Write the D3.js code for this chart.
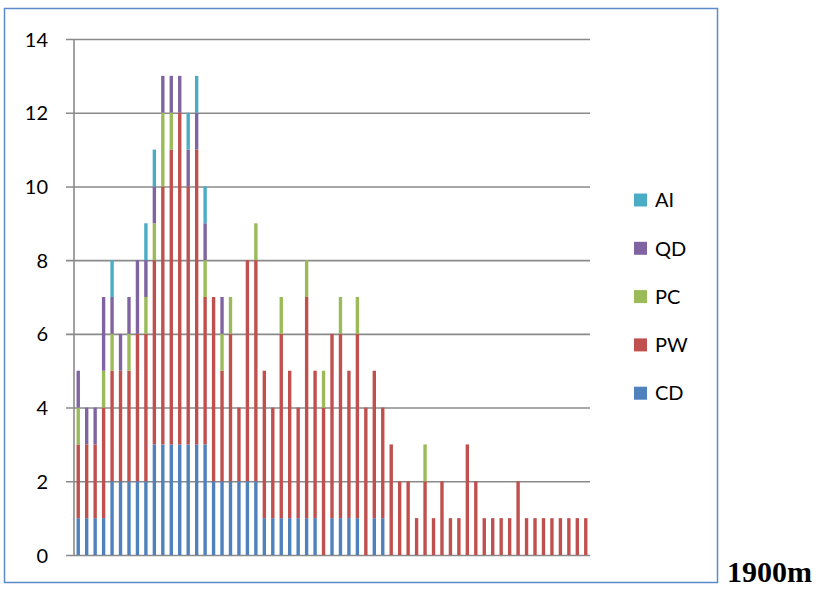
<!DOCTYPE html>
<html>
<head>
<meta charset="utf-8">
<script src="https://cdn.jsdelivr.net/npm/d3@7"></script>
<style>
  body { margin: 0; background: #fff; }
  svg { display: block; }
</style>
</head>
<body>
<svg id="chart" width="819" height="590"></svg>
<script>
// ----------------------
// data (61 stations, stacked counts)
// ----------------------
const stations = d3.range(1, 62).map(String);
const seriesKeys = ["CD", "PW", "PC", "QD", "AI"];
const yTicks = [0, 2, 4, 6, 8, 10, 12, 14];

const cdValues = [1,1,1,1,2,2,2,2,2,3, 3,3,3,3,3,3,2,2,2,2, 2,2,1,1,1,1,1,1,1,0,
                  1,1,1,1,0,1,1,0,0,0, 0,0,0,0,0,0,0,0,0,0, 0,0,0,0,0,0,0,0,0,0, 0];
const pwValues = [2,2,2,3,3,3,3,4,4,5, 7,8,9,7,8,4,5,3,4,2, 6,6,4,3,5,4,3,6,4,4,
                  5,5,4,5,4,4,3,3,2,2, 1,2,1,2,1,1,3,2,1,1, 1,1,2,1,1,1,1,1,1,1, 1];
const pcValues = [1,0,0,1,1,0,1,0,1,1, 2,1,0,0,0,1,0,1,1,0, 0,1,0,0,1,0,0,1,0,1,
                  0,1,0,1,0,0,0,0,0,0, 0,1,0,0,0,0,0,0,0,0, 0,0,0,0,0,0,0,0,0,0, 0];
const qdValues = [1,1,1,2,1,1,1,2,1,1, 1,1,1,1,1,1,0,1,0,0, 0,0,0,0,0,0,0,0,0,0,
                  0,0,0,0,0,0,0,0,0,0, 0,0,0,0,0,0,0,0,0,0, 0,0,0,0,0,0,0,0,0,0, 0];
const aiValues = [0,0,0,0,1,0,0,0,1,1, 0,0,0,1,1,1,0,0,0,0, 0,0,0,0,0,0,0,0,0,0,
                  0,0,0,0,0,0,0,0,0,0, 0,0,0,0,0,0,0,0,0,0, 0,0,0,0,0,0,0,0,0,0, 0];

const colors = { CD: "#4f81bd", PW: "#c0504d", PC: "#9bbb59", QD: "#8064a2", AI: "#4bacc6" };

// build rows for d3.stack
const rows = stations.map((s, i) => ({
  station: s, CD: cdValues[i], PW: pwValues[i], PC: pcValues[i], QD: qdValues[i], AI: aiValues[i]
}));

// ----------------------
// layout
// ----------------------
const svg = d3.select("#chart");
const plot = { left: 74, right: 590, top: 39, bottom: 555 };

// outer frame
svg.append("rect")
  .attr("x", 4.5).attr("y", 8.5)
  .attr("width", 713).attr("height", 574)
  .attr("fill", "none")
  .attr("stroke", "#5b8bc9")
  .attr("stroke-width", 1.5);

const x = d3.scaleBand()
  .domain(stations)
  .range([plot.left, plot.right])
  .paddingInner(0.6)
  .paddingOuter(0.3);

const y = d3.scaleLinear()
  .domain([0, 14])
  .range([plot.bottom, plot.top]);

// gridlines + y ticks
const yAxis = d3.axisLeft(y)
  .tickValues(yTicks)
  .tickSize(-(plot.right - plot.left))
  .tickPadding(26)
  .tickFormat(d3.format("d"));

const yAxisG = svg.append("g")
  .attr("transform", `translate(${plot.left},0)`)
  .call(yAxis);

yAxisG.select(".domain").remove();
yAxisG.selectAll(".tick line")
  .attr("x1", -8)
  .attr("stroke", "#8a8a8a")
  .attr("stroke-width", 1.6);
yAxisG.selectAll(".tick text")
  .attr("font-family", "Lato, 'Open Sans', sans-serif")
  .attr("font-size", 20)
  .attr("fill", "#000")
  .attr("dy", "0.35em");

// vertical axis line
svg.append("line")
  .attr("x1", plot.left).attr("x2", plot.left)
  .attr("y1", plot.top).attr("y2", plot.bottom)
  .attr("stroke", "#8a8a8a")
  .attr("stroke-width", 1.6);

// ----------------------
// stacked bars
// ----------------------
const stacked = d3.stack().keys(seriesKeys)(rows);

svg.append("g")
  .selectAll("g")
  .data(stacked)
  .join("g")
  .attr("fill", d => colors[d.key])
  .selectAll("rect")
  .data(d => d.filter(p => p[1] > p[0]))
  .join("rect")
  .attr("x", d => x(d.data.station))
  .attr("y", d => y(d[1]))
  .attr("width", x.bandwidth())
  .attr("height", d => y(d[0]) - y(d[1]));

// ----------------------
// legend (top to bottom: AI, QD, PC, PW, CD)
// ----------------------
const legendKeys = seriesKeys.slice().reverse();
const legend = svg.append("g")
  .selectAll("g")
  .data(legendKeys)
  .join("g")
  .attr("transform", (d, i) => `translate(634,${200 + i * 48.3})`);

legend.append("rect")
  .attr("x", 0).attr("y", -6.5)
  .attr("width", 13).attr("height", 13)
  .attr("fill", d => colors[d]);

legend.append("text")
  .attr("x", 21)
  .attr("y", 0)
  .attr("dy", "0.36em")
  .attr("font-family", "Lato, 'Open Sans', sans-serif")
  .attr("font-size", 20)
  .attr("fill", "#000")
  .text(d => d);

// label outside frame
svg.append("text")
  .attr("x", 727)
  .attr("y", 582)
  .attr("font-family", "'Liberation Serif', 'Times New Roman', serif")
  .attr("font-weight", "bold")
  .attr("font-size", 30)
  .attr("fill", "#000")
  .text("1900m");
</script>
</body>
</html>
